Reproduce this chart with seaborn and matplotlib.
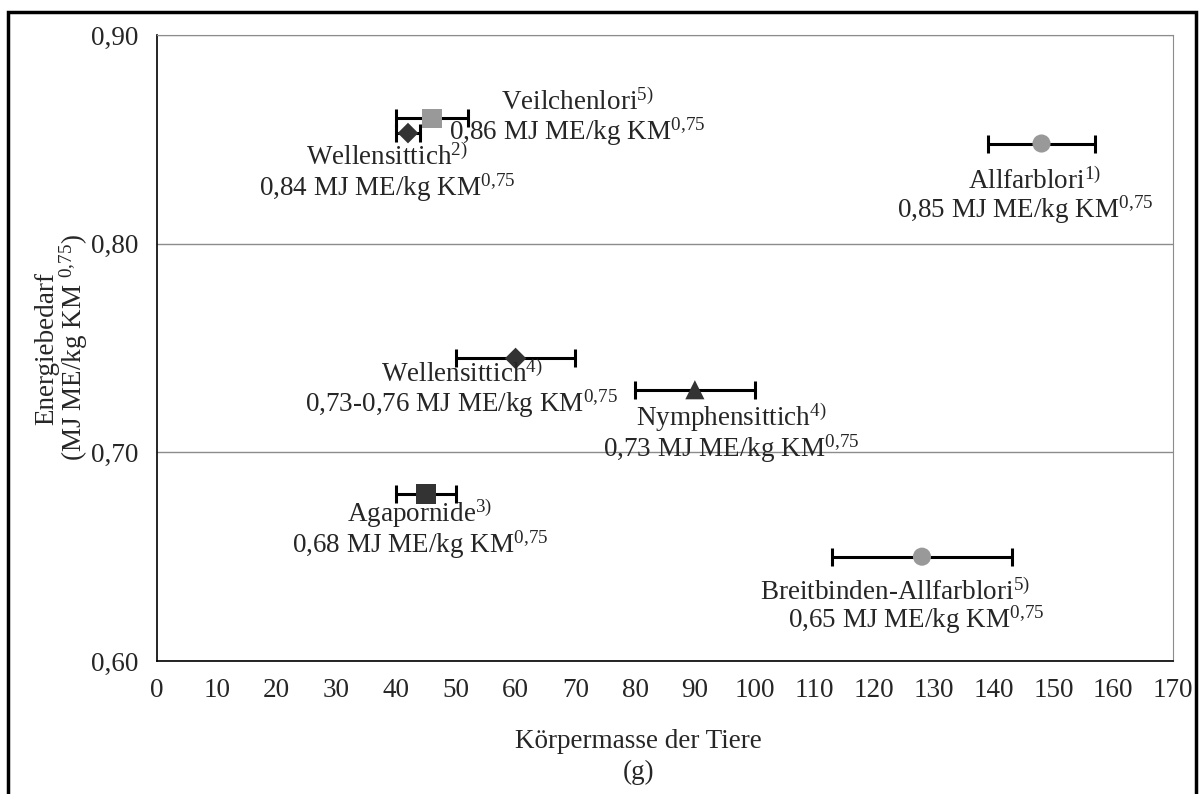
import pandas as pd
import matplotlib
matplotlib.use('Agg')
import matplotlib.pyplot as plt
import seaborn as sns
from matplotlib.patches import Rectangle
from matplotlib.ticker import FuncFormatter

# Daten
species = ['Veilchenlori', 'Wellensittich_2', 'Allfarblori', 'Wellensittich_4',
           'Nymphensittich', 'Agapornide', 'Breitbinden-Allfarblori']
mass = [46, 42, 148, 60, 90, 45, 128]
mass_err = [6, 2, 9, 10, 10, 5, 15]
energy = [0.86, 0.853, 0.848, 0.745, 0.73, 0.68, 0.65]

names = ['Veilchenlori$^{5)}$', 'Wellensittich$^{2)}$', 'Allfarblori$^{1)}$',
         'Wellensittich$^{4)}$', 'Nymphensittich$^{4)}$', 'Agapornide$^{3)}$',
         'Breitbinden-Allfarblori$^{5)}$']
values = ['0,86', '0,84', '0,85', '0,73-0,76', '0,73', '0,68', '0,65']

# Beschriftungspositionen
name_x = [70.3, 38.5, 146.9, 51.0, 96.0, 44.0, 123.5]
name_y = [0.8675, 0.8415, 0.830, 0.7372, 0.7168, 0.6705, 0.6330]
value_x = [70.3, 38.5, 145.2, 51.0, 96.0, 44.0, 127.0]
value_y = [0.8535, 0.8267, 0.8161, 0.7232, 0.7018, 0.6556, 0.6197]

marker_map = {'Veilchenlori': 's', 'Wellensittich_2': 'D', 'Allfarblori': 'o',
              'Wellensittich_4': 'D', 'Nymphensittich': '^', 'Agapornide': 's',
              'Breitbinden-Allfarblori': 'o'}
color_map = {'Veilchenlori': '#999999', 'Wellensittich_2': '#333333', 'Allfarblori': '#999999',
             'Wellensittich_4': '#333333', 'Nymphensittich': '#333333', 'Agapornide': '#333333',
             'Breitbinden-Allfarblori': '#999999'}
size_map = {'Veilchenlori': 200, 'Wellensittich_2': 110, 'Allfarblori': 170,
            'Wellensittich_4': 120, 'Nymphensittich': 190, 'Agapornide': 200,
            'Breitbinden-Allfarblori': 170}

df = pd.DataFrame({'species': species, 'mass': mass, 'err': mass_err, 'energy': energy})

sns.set_style('white')
plt.rcParams['font.family'] = ['Liberation Serif', 'DejaVu Serif']
plt.rcParams['mathtext.fontset'] = 'custom'
plt.rcParams['mathtext.rm'] = 'Liberation Serif'
plt.rcParams['mathtext.it'] = 'Liberation Serif'
plt.rcParams['mathtext.bf'] = 'Liberation Serif'

FS = 19.5
exp = ' MJ ME/kg KM$^{0{,}75}$'

fig = plt.figure(figsize=(12, 7.94), dpi=100)
ax = fig.add_axes([0.1308, 0.1675, 0.9775 - 0.1308, 0.9559 - 0.1675])

# Fehlerbalken
ax.errorbar(df['mass'], df['energy'], xerr=df['err'], fmt='none', ecolor='black',
            elinewidth=2.2, capsize=6.5, capthick=2.2, zorder=2)

# Punkte
for sp in species:
    sub = df[df['species'] == sp]
    sns.scatterplot(data=sub, x='mass', y='energy', marker=marker_map[sp],
                    color=color_map[sp], s=size_map[sp], edgecolor='none',
                    ax=ax, zorder=3, legend=False)

# Beschriftungen
for i in range(len(species)):
    ax.text(name_x[i], name_y[i], names[i], ha='center', va='center', fontsize=FS)
    ax.text(value_x[i], value_y[i], values[i] + exp,
            ha='center', va='center', fontsize=FS)

ax.set_xlim(0, 170)
ax.set_ylim(0.60, 0.90)
ax.set_xticks(range(0, 171, 10))
ax.set_yticks([0.60, 0.70, 0.80, 0.90])
ax.yaxis.set_major_formatter(FuncFormatter(lambda v, p: f'{v:.2f}'.replace('.', ',')))
ax.tick_params(axis='both', labelsize=FS, direction='out', length=6.5, width=1, color='black')
ax.tick_params(axis='x', pad=6)
ax.tick_params(axis='y', pad=7)

ax.yaxis.grid(True, color='#8c8c8c', linewidth=1)
ax.xaxis.grid(False)
ax.set_axisbelow(True)

ax.spines['left'].set_color('black')
ax.spines['bottom'].set_color('black')
ax.spines['left'].set_linewidth(1.2)
ax.spines['bottom'].set_linewidth(1.2)
ax.spines['top'].set_color('#8c8c8c')
ax.spines['right'].set_color('#8c8c8c')

# Achsentitel
ax.set_xlabel('')
ax.set_ylabel('')
ax.text(0.474, -0.108, 'Körpermasse der Tiere\n(g)', transform=ax.transAxes,
        ha='center', va='top', fontsize=FS, linespacing=1.35)
ax.text(-0.0935, 0.5, 'Energiebedarf\n(MJ ME/kg KM $^{0{,}75}$)', transform=ax.transAxes,
        ha='center', va='center', rotation=90, fontsize=FS, linespacing=0.95,
        multialignment='center')

# Rahmen um die ganze Abbildung
frame = Rectangle((0.0067, -0.02), 0.99, 1.005, transform=fig.transFigure,
                  fill=False, edgecolor='black', linewidth=2.5, clip_on=False)
fig.patches.append(frame)

fig.savefig('out.png', dpi=100)
